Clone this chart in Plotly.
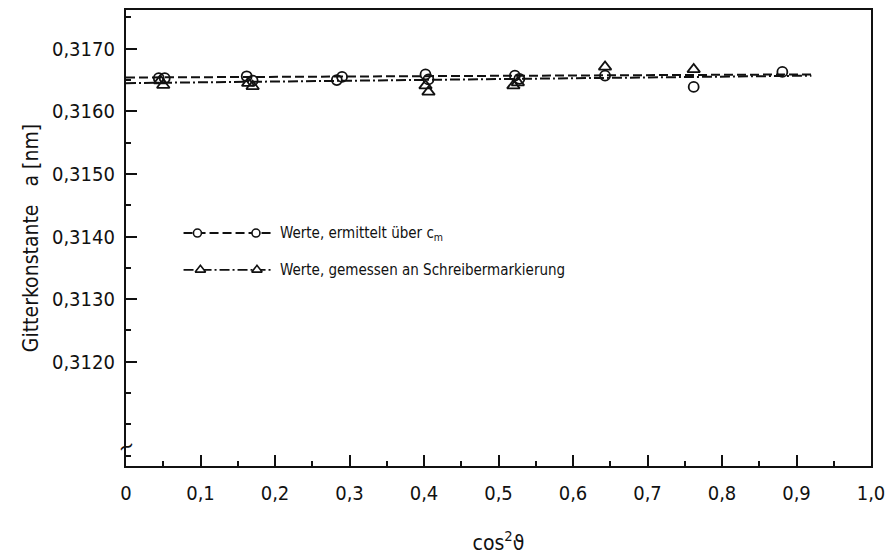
import plotly.graph_objects as go

# ---- data ----
circ_x = [0.044, 0.052, 0.162, 0.170, 0.283, 0.290, 0.402, 0.406, 0.522, 0.528, 0.643, 0.762, 0.881]
circ_y = [0.31653, 0.31653, 0.31656, 0.31649, 0.31650, 0.31655, 0.31659, 0.31651, 0.31657, 0.31652, 0.31657, 0.31639, 0.31663]
tri_x = [0.046, 0.050, 0.164, 0.170, 0.402, 0.406, 0.520, 0.526, 0.643, 0.762]
tri_y = [0.31649, 0.31642, 0.31645, 0.31640, 0.31641, 0.31631, 0.31641, 0.31646, 0.31671, 0.31667]
fit_x = [0.0, 0.92]
fit_circ_y = [0.31654, 0.31659]
fit_tri_y = [0.31645, 0.31657]

x_tickvals = [0.0, 0.1, 0.2, 0.3, 0.4, 0.5, 0.6, 0.7, 0.8, 0.9, 1.0]
x_ticktext = ["0", "0,1", "0,2", "0,3", "0,4", "0,5", "0,6", "0,7", "0,8", "0,9", "1,0"]
y_tickvals = [0.3120, 0.3130, 0.3140, 0.3150, 0.3160, 0.3170]
y_ticktext = ["0,3120", "0,3130", "0,3140", "0,3150", "0,3160", "0,3170"]

legend_circ = "Werte, ermittelt über c<sub>m</sub>"
legend_tri = "Werte, gemessen an Schreibermarkierung"

FONT = "DejaVu Sans Condensed, DejaVu Sans, sans-serif"
BLACK = "#111111"

fig = go.Figure()

# fitted lines
fig.add_trace(go.Scatter(x=fit_x, y=fit_circ_y, mode="lines",
                         line=dict(color=BLACK, width=2, dash="9px,4px"),
                         showlegend=False, hoverinfo="skip"))
fig.add_trace(go.Scatter(x=fit_x, y=fit_tri_y, mode="lines",
                         line=dict(color=BLACK, width=2, dash="10px,3px,2px,3px"),
                         showlegend=False, hoverinfo="skip"))
# points
fig.add_trace(go.Scatter(x=circ_x, y=circ_y, mode="markers",
                         marker=dict(symbol="circle-open", size=10, color=BLACK, line=dict(width=1.8)),
                         showlegend=False))
fig.add_trace(go.Scatter(x=tri_x, y=tri_y, mode="markers",
                         marker=dict(symbol="triangle-up-open", size=11, color=BLACK, line=dict(width=1.8)),
                         showlegend=False))

# ---- hand-drawn legend on an overlay axis measured in plot-area pixels ----
leg_rows = [234, 197]          # row heights above plot bottom (px)
leg_x0, leg_x1 = 58, 146       # sample extent (px from plot left)
leg_mk = [[72, 131], [75, 132]]
leg_txt_x = 153
fig.add_trace(go.Scatter(x=[leg_x0, leg_x1], y=[leg_rows[0]] * 2, xaxis="x2", yaxis="y2", mode="lines",
                         line=dict(color=BLACK, width=1.8, dash="9px,4px"), showlegend=False, hoverinfo="skip"))
fig.add_trace(go.Scatter(x=leg_mk[0], y=[leg_rows[0]] * 2, xaxis="x2", yaxis="y2", mode="markers",
                         marker=dict(symbol="circle", size=8, color="white", line=dict(width=1.6, color=BLACK)),
                         showlegend=False, hoverinfo="skip"))
fig.add_trace(go.Scatter(x=[leg_x0, leg_x1], y=[leg_rows[1]] * 2, xaxis="x2", yaxis="y2", mode="lines",
                         line=dict(color=BLACK, width=1.8, dash="10px,3px,2px,3px"), showlegend=False, hoverinfo="skip"))
fig.add_trace(go.Scatter(x=leg_mk[1], y=[leg_rows[1]] * 2, xaxis="x2", yaxis="y2", mode="markers",
                         marker=dict(symbol="triangle-up", size=9, color="white", line=dict(width=1.6, color=BLACK)),
                         showlegend=False, hoverinfo="skip"))
for row, txt in zip(leg_rows, [legend_circ, legend_tri]):
    fig.add_annotation(x=leg_txt_x, y=row, xref="x2", yref="y2", text=txt, showarrow=False,
                       xanchor="left", yanchor="middle", font=dict(family=FONT, size=15, color=BLACK))

# axis break mark
fig.add_annotation(x=0, y=0.31064, xref="paper", yref="y", text="~", showarrow=False,
                   xanchor="center", yanchor="middle", textangle=-20,
                   font=dict(family=FONT, size=22, color=BLACK))

fig.update_layout(
    width=893, height=559,
    margin=dict(l=126, r=16, t=8, b=93),
    paper_bgcolor="white", plot_bgcolor="white",
    font=dict(family=FONT, color=BLACK),
    showlegend=False,
    xaxis=dict(range=[0, 1.0], tickvals=x_tickvals, ticktext=x_ticktext,
               ticks="inside", ticklen=11, tickwidth=2, tickcolor=BLACK,
               minor=dict(ticks="inside", dtick=0.05, ticklen=5, tickwidth=1.6, tickcolor=BLACK),
               showline=True, linecolor=BLACK, linewidth=2.2, mirror=True,
               showgrid=False, zeroline=False,
               tickfont=dict(size=20, family=FONT), ticklabelstandoff=8,
               title=dict(text="cos<sup>2</sup>ϑ", font=dict(size=21, family=FONT), standoff=31)),
    yaxis=dict(range=[0.310333, 0.317619], tickvals=y_tickvals, ticktext=y_ticktext,
               ticks="inside", ticklen=11, tickwidth=2, tickcolor=BLACK,
               minor=dict(ticks="inside", dtick=0.0005, tick0=0.3120, ticklen=5, tickwidth=1.6, tickcolor=BLACK),
               showline=True, linecolor=BLACK, linewidth=2.2, mirror=True,
               showgrid=False, zeroline=False,
               tickfont=dict(size=20, family=FONT), ticklabelstandoff=5,
               title=dict(text="Gitterkonstante   a [nm]", font=dict(size=21, family=FONT), standoff=8)),
    xaxis2=dict(domain=[0, 1], range=[0, 751], anchor="y2", overlaying="x", visible=False, fixedrange=True),
    yaxis2=dict(domain=[0, 1], range=[0, 458], anchor="x2", overlaying="y", visible=False, fixedrange=True),
)

fig.write_html("out.html")
